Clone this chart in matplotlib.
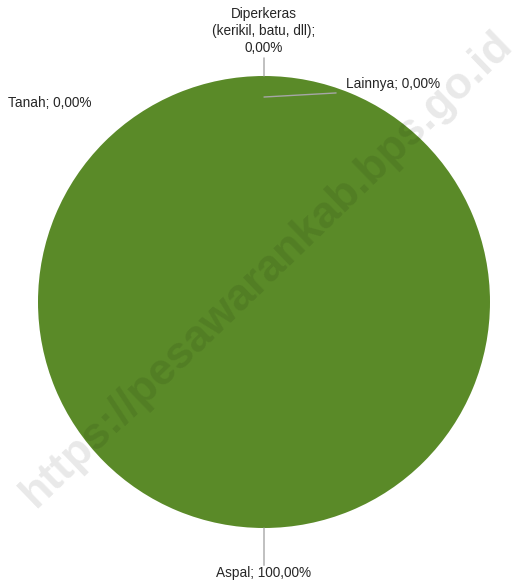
import matplotlib
matplotlib.use('Agg')
import matplotlib.pyplot as plt

# data
categories = ['Aspal', 'Diperkeras\n(kerikil, batu, dll)', 'Lainnya', 'Tanah']
shares = [100.0, 0.0, 0.0, 0.0]
colors = ['#5a8a28', '#a5a5a5', '#ffc000', '#4472c4']

plt.rcParams['font.family'] = ['Liberation Sans', 'DejaVu Sans']

fig = plt.figure(figsize=(5.28, 5.84), dpi=100)
r_w = 226 / 528
r_h = 226 / 584
cy = 1 - 302 / 584
ax = fig.add_axes([0.5 - r_w, cy - r_h, 2 * r_w, 2 * r_h])

ax.pie(shares, colors=colors, startangle=90, counterclock=False,
       wedgeprops=dict(linewidth=0))
ax.set_xlim(-1, 1)
ax.set_ylim(-1, 1)
ax.set_aspect('equal')
ax.axis('off')

def fmt(v):
    return f'{v:.2f}'.replace('.', ',') + '%'

line = dict(arrowstyle='-', color='#a6a6a6', lw=1, shrinkA=0, shrinkB=0)
fs = 9.8

# Aspal (bottom)
ax.annotate(f'{categories[0]}; {fmt(shares[0])}', xy=(0, -1.0), xytext=(0, -1.2),
            ha='center', va='center', fontsize=fs, color='#262626',
            annotation_clip=False)
ax.annotate('', xy=(0, -1.0), xytext=(0, -1.165), arrowprops=line, annotation_clip=False)

# Diperkeras (top)
ax.annotate(f'{categories[1]};\n{fmt(shares[1])}', xy=(0, 1.0), xytext=(0, 1.2),
            ha='center', va='center', fontsize=fs, color='#262626',
            linespacing=1.25, annotation_clip=False)
ax.annotate('', xy=(0, 1.0), xytext=(0, 1.08), arrowprops=line, annotation_clip=False)

# Lainnya (top right, line inside the pie)
ax.annotate(f'{categories[2]}; {fmt(shares[2])}', xy=(0, 0.91), xytext=(0.363, 0.965),
            ha='left', va='center', fontsize=fs, color='#262626',
            annotation_clip=False)
ax.annotate('', xy=(0, 0.907), xytext=(0.319, 0.925), arrowprops=line, annotation_clip=False)

# Tanah (top left, no line)
ax.annotate(f'{categories[3]}; {fmt(shares[3])}', xy=(0, 1.0), xytext=(-1.133, 0.88),
            ha='left', va='center', fontsize=fs, color='#262626',
            annotation_clip=False)

# watermark
fig.text(0.505, 0.54, 'https://pesawarankab.bps.go.id', rotation=44,
         ha='center', va='center', fontsize=32, fontweight='bold',
         color='black', alpha=0.09, zorder=10)

fig.savefig('out.png', dpi=100)
